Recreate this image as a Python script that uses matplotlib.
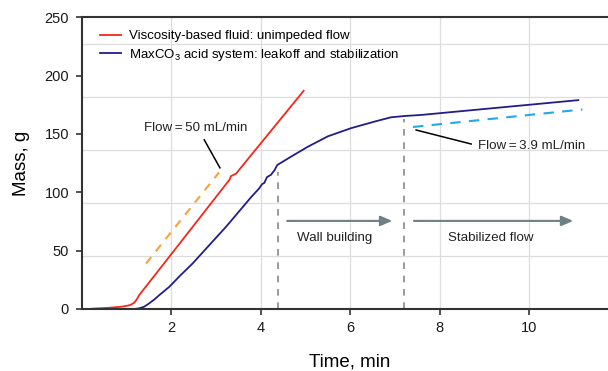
import matplotlib
matplotlib.use('Agg')
import matplotlib.pyplot as plt

plt.rcParams['font.family'] = ['Liberation Sans', 'DejaVu Sans']
plt.rcParams['mathtext.fontset'] = 'custom'
plt.rcParams['mathtext.rm'] = 'Liberation Sans'

# Viscosity-based fluid (red)
red_t = [0.24, 0.6, 0.9, 1.05, 1.12, 1.18, 1.23, 1.29, 1.96, 3.30, 3.34, 3.45, 4.96]
red_m = [0.3, 1.0, 2.0, 3.0, 4.0, 5.5, 8.0, 12.0, 44.8, 110.6, 114.0, 116.0, 187.0]

# MaxCO3 acid system (navy)
blue_t = [1.18, 1.29, 1.4, 1.5, 1.62, 1.74, 1.96, 2.2, 2.48, 3.23, 3.79, 3.97, 4.03, 4.08, 4.14,
          4.23, 4.31, 4.37, 4.68, 5.05, 5.5, 6.02, 6.54, 6.91, 7.21, 7.58, 11.09]
blue_m = [0.0, 0.6, 2.0, 4.5, 8.0, 12.0, 19.0, 28.5, 39.0, 70.6, 96.0, 103.5, 107.0, 108.0, 113.0,
          115.0, 119.0, 123.4, 130.6, 139.0, 148.0, 155.0, 160.6, 164.3, 165.4, 166.3, 179.0]

# fitted flow lines
fit1_t = [1.44, 3.07]
fit1_m = [39.0, 117.0]
fit2_t = [7.4, 11.18]
fit2_m = [156.0, 171.0]

# phase boundaries
phase_t = [4.38, 7.2]
phase_top = [117.7, 163.0]

x_ticks = [2, 4, 6, 8, 10]
y_ticks = [0, 50, 100, 150, 200, 250]
grid_y = [45.45, 90.9, 136.4, 181.8, 227.3]

fig = plt.figure(figsize=(6.08, 3.71), dpi=100)
ax = fig.add_axes([81.5 / 608, 62 / 371, 537.5 / 608, 291.7 / 371])

for gx in x_ticks:
    ax.axvline(gx, color='#dddddd', lw=0.9, zorder=0)
for gy in grid_y:
    ax.axhline(gy, color='#dddddd', lw=0.9, zorder=0)

ax.plot(red_t, red_m, color='#f5261b', lw=1.3, label='Viscosity-based fluid: unimpeded flow')
ax.plot(blue_t, blue_m, color='#221c8c', lw=1.3,
        label='MaxCO$_\\mathregular{3}$ acid system: leakoff and stabilization')
ax.plot(fit1_t, fit1_m, color='#f5a33a', lw=1.5, dashes=(4, 3.5))
ax.plot(fit2_t, fit2_m, color='#20a9ec', lw=1.5, dashes=(5, 4))

for t, top in zip(phase_t, phase_top):
    ax.plot([t, t], [0, top], color='#8a8a8a', lw=1.2, dashes=(4, 4))

arrow_kw = dict(arrowstyle='-|>,head_length=0.7,head_width=0.3', color='#6e7f87', lw=1.5)
ax.annotate('', xy=(7.0, 75.5), xytext=(4.53, 75.5), arrowprops=arrow_kw)
ax.annotate('', xy=(11.04, 75.5), xytext=(7.36, 75.5), arrowprops=arrow_kw)
ax.text(5.66, 60.5, 'Wall building', fontsize=9.6, ha='center', va='center', color='#222222')
ax.text(9.13, 60.5, 'Stabilized flow', fontsize=9.6, ha='center', va='center', color='#222222')

ax.plot([2.74, 3.09], [145, 121], color='black', lw=1.1)
ax.text(2.55, 155, 'Flow\u2009=\u200950 mL/min', fontsize=9.6, ha='center', va='center', color='#222222')
ax.plot([7.47, 8.70], [153.4, 141.4], color='black', lw=1.1)
ax.text(10.06, 139.7, 'Flow\u2009=\u20093.9 mL/min', fontsize=9.6, ha='center', va='center', color='#222222')

ax.set_xlim(0, 12)
ax.set_ylim(0, 250)
ax.set_xticks(x_ticks)
ax.set_yticks(y_ticks)
ax.tick_params(direction='out', length=4, width=1.2, color='#333333', labelsize=10.5,
               labelcolor='#1a1a1a', pad=5)
for side in ['left', 'bottom', 'top']:
    ax.spines[side].set_color('#333333')
    ax.spines[side].set_linewidth(1.5)
ax.spines['right'].set_visible(False)

ax.set_ylabel('Mass, g', fontsize=13.5, labelpad=10)
fig.text(350 / 608, 1 - 362 / 371, 'Time, min', fontsize=13.5, ha='center', va='center')

ax.legend(loc='upper left', bbox_to_anchor=(0.034, 0.956), frameon=False, fontsize=9.5,
          borderpad=0, borderaxespad=0, handlelength=1.6, handletextpad=0.6, labelspacing=0.35)

fig.savefig('out.png', dpi=100)
